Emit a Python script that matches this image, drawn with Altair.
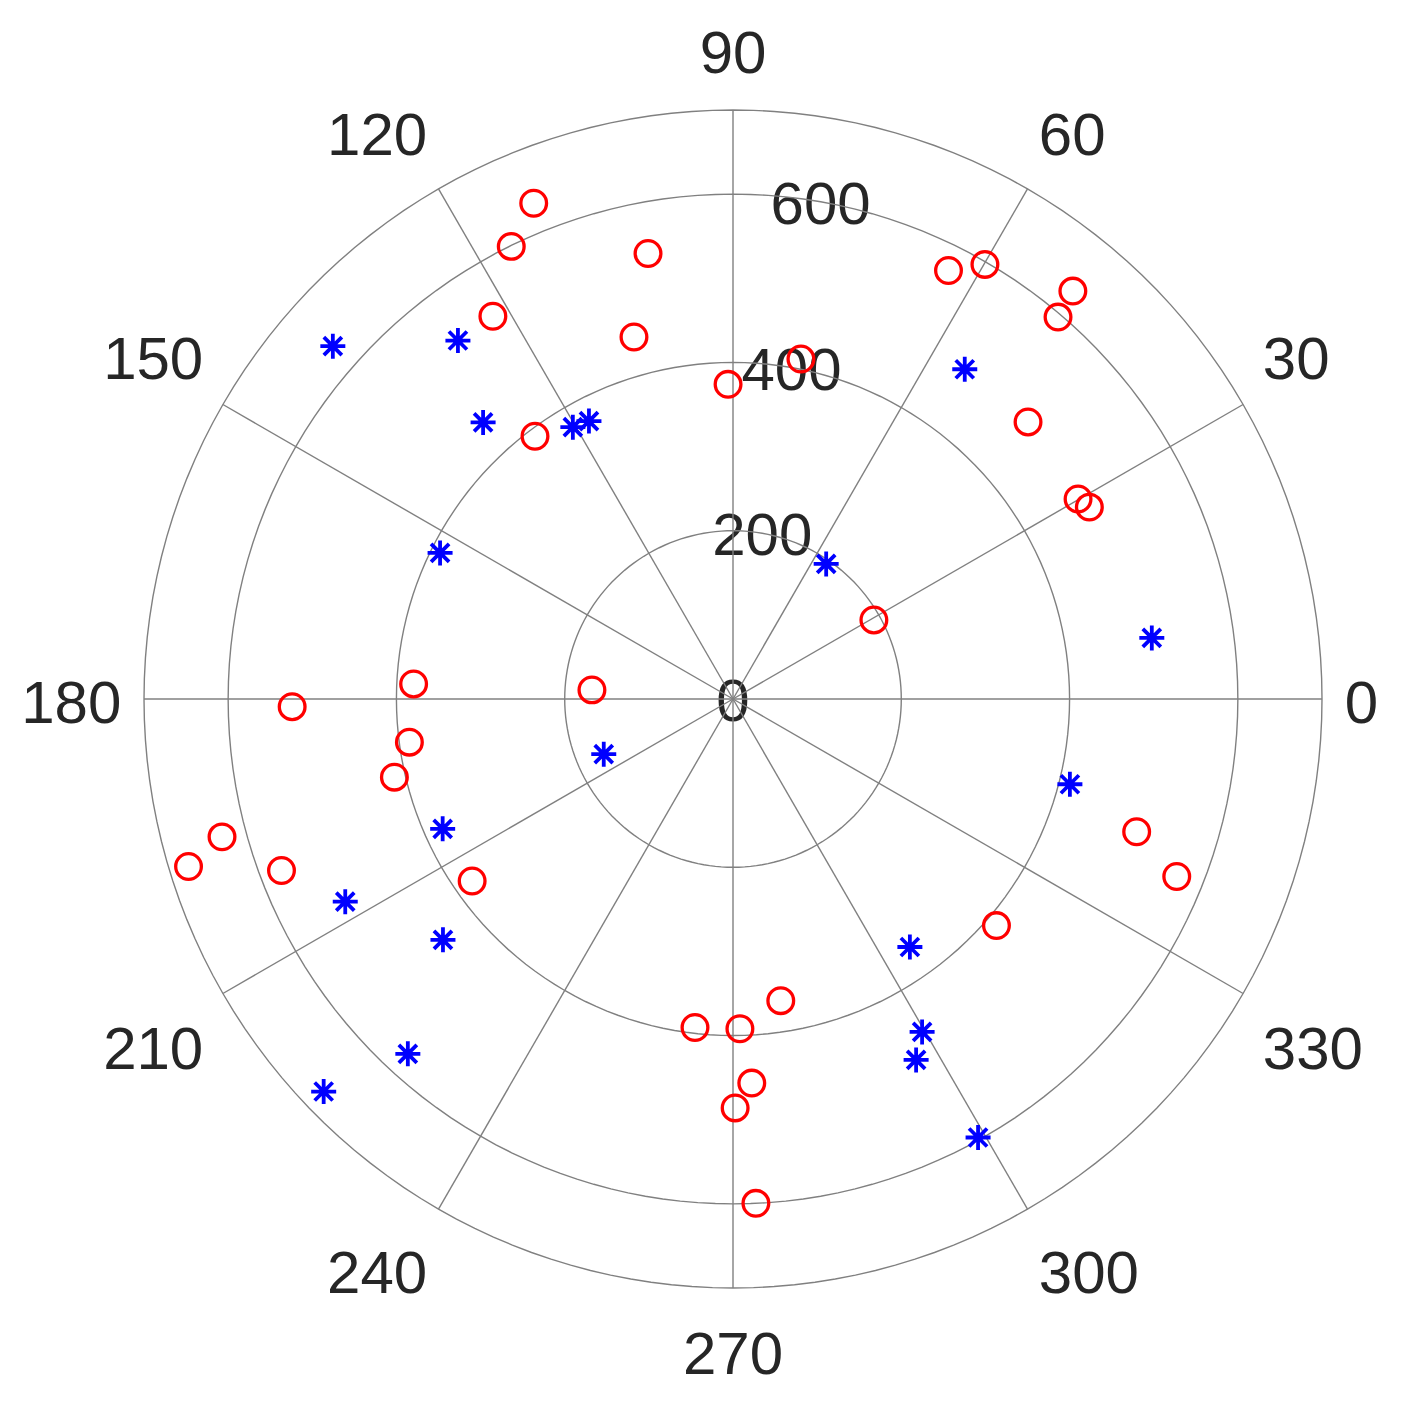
import math
import altair as alt
import pandas as pd

# ---- data (theta in degrees, r in data units) ----
circ_theta = [111.9, 116.1, 100.8, 122.1, 105.3, 90.9, 127.0, 78.7, 63.3, 59.9,
              50.2, 49.6, 43.2, 30.1, 28.3, 29.3, 176.3, 177.3, 181.0, 187.6,
              193.0, 195.1, 197.1, 200.8, 214.9, 341.8, 338.2, 319.3, 279.0, 263.4,
              271.2, 272.8, 270.3, 272.6]
circ_r = [635, 599, 539, 537, 446, 374, 391, 412, 570, 597,
          631, 596, 481, 474, 481, 192, 168, 380, 524, 388,
          413, 629, 677, 574, 378, 505, 568, 413, 363, 393,
          392, 457, 486, 600]

star_theta = [138.6, 127.5, 132.1, 120.5, 117.4, 153.5, 55.4, 54.9, 8.3, 345.8,
              203.1, 204.1, 207.6, 219.7, 227.5, 223.8, 305.5, 299.6, 296.9, 299.2]
star_r = [634, 537, 443, 375, 372, 389, 195, 479, 503, 413,
          167, 378, 520, 448, 572, 674, 362, 455, 481, 597]

theta_ticks = [0, 30, 60, 90, 120, 150, 180, 210, 240, 270, 300, 330]
r_ticks = [0, 200, 400, 600]
ring_radii = [200, 400, 600, 700]
R_MAX = 700
R_LABEL_ANGLE = 80

# ---- style ----
FONT = "Liberation Sans"
TXT = "#262626"
GRID = "#808080"
W = 1178
xs = alt.Scale(domain=[-R_MAX, R_MAX], nice=False, zero=False)
ys = alt.Scale(domain=[-R_MAX, R_MAX], nice=False, zero=False)

to_xy = dict(
    x="datum.r * cos(datum.theta * PI / 180)",
    y="datum.r * sin(datum.theta * PI / 180)",
)

# grid rings
ring_df = pd.DataFrame(
    [(rr, a) for rr in ring_radii for a in range(0, 361, 2)], columns=["r", "theta"]
)
rings = (
    alt.Chart(ring_df)
    .transform_calculate(**to_xy)
    .mark_line(color=GRID, strokeWidth=1.4)
    .encode(
        x=alt.X("x:Q", scale=xs, axis=None),
        y=alt.Y("y:Q", scale=ys, axis=None),
        detail="r:N",
        order="theta:Q",
    )
)

# spokes
spoke_df = pd.DataFrame({"theta": theta_ticks, "r": [R_MAX] * len(theta_ticks)})
spokes = (
    alt.Chart(spoke_df)
    .transform_calculate(x0="0", y0="0", **to_xy)
    .mark_rule(color=GRID, strokeWidth=1.4)
    .encode(
        x=alt.X("x0:Q", scale=xs, axis=None),
        y=alt.Y("y0:Q", scale=ys, axis=None),
        x2="x:Q",
        y2="y:Q",
    )
)

# radial tick labels at 80 degrees
rlab_df = pd.DataFrame({"r": r_ticks, "theta": [R_LABEL_ANGLE] * len(r_ticks),
                        "label": [str(v) for v in r_ticks]})
rlabels = (
    alt.Chart(rlab_df)
    .transform_calculate(
        x="datum.r * cos(datum.theta * PI / 180)",
        y="datum.r * sin(datum.theta * PI / 180) - 5",
    )
    .mark_text(font=FONT, fontSize=60, color=TXT, align="center", baseline="middle")
    .encode(
        x=alt.X("x:Q", scale=xs, axis=None),
        y=alt.Y("y:Q", scale=ys, axis=None),
        text="label:N",
    )
)

# angular tick labels
R_A = 727
rows = []
for t in theta_ticks:
    c = math.cos(math.radians(t))
    s = math.sin(math.radians(t))
    ax, ay = R_A * c, R_A * s
    align = "left" if c > 0.01 else ("right" if c < -0.01 else "center")
    if s > 0.01:
        ly = ay + 38.6
    elif s < -0.01:
        ly = ay - 54.4
    else:
        ly = -7
    rows.append({"label": str(t), "lx": ax, "ly": ly, "al": align})
tlab_df = pd.DataFrame(rows)

tlayers = []
for al in ["left", "right", "center"]:
    tlayers.append(
        alt.Chart(tlab_df)
        .transform_filter(alt.datum.al == al)
        .mark_text(font=FONT, fontSize=60, color=TXT, align=al, baseline="middle")
        .encode(
            x=alt.X("lx:Q", scale=xs, axis=None),
            y=alt.Y("ly:Q", scale=ys, axis=None),
            text="label:N",
        )
    )

# data markers
circ_df = pd.DataFrame({"theta": circ_theta, "r": circ_r})
star_df = pd.DataFrame({"theta": star_theta, "r": star_r})

ASTERISK = "M0,-1L0,1M-1,0L1,0M-0.72,-0.72L0.72,0.72M-0.72,0.72L0.72,-0.72"

circles = (
    alt.Chart(circ_df)
    .transform_calculate(**to_xy)
    .mark_point(shape="circle", filled=False, color="#ff0000", strokeWidth=3.3,
                size=660, opacity=1)
    .encode(
        x=alt.X("x:Q", scale=xs, axis=None),
        y=alt.Y("y:Q", scale=ys, axis=None),
    )
)

stars = (
    alt.Chart(star_df)
    .transform_calculate(**to_xy)
    .mark_point(shape=ASTERISK, filled=False, color="#0000ff", strokeWidth=3.8,
                size=625, opacity=1)
    .encode(
        x=alt.X("x:Q", scale=xs, axis=None),
        y=alt.Y("y:Q", scale=ys, axis=None),
    )
)

chart = (
    alt.layer(rlabels, rings, spokes, *tlayers, stars, circles)
    .properties(
        width=W,
        height=W,
        padding={"left": 136, "top": 102, "right": 70, "bottom": 100},
        autosize=alt.AutoSizeParams(type="none"),
        background="white",
    )
    .configure_view(stroke=None)
)

chart.save("out.html", embed_options={"renderer": "svg", "actions": False})
